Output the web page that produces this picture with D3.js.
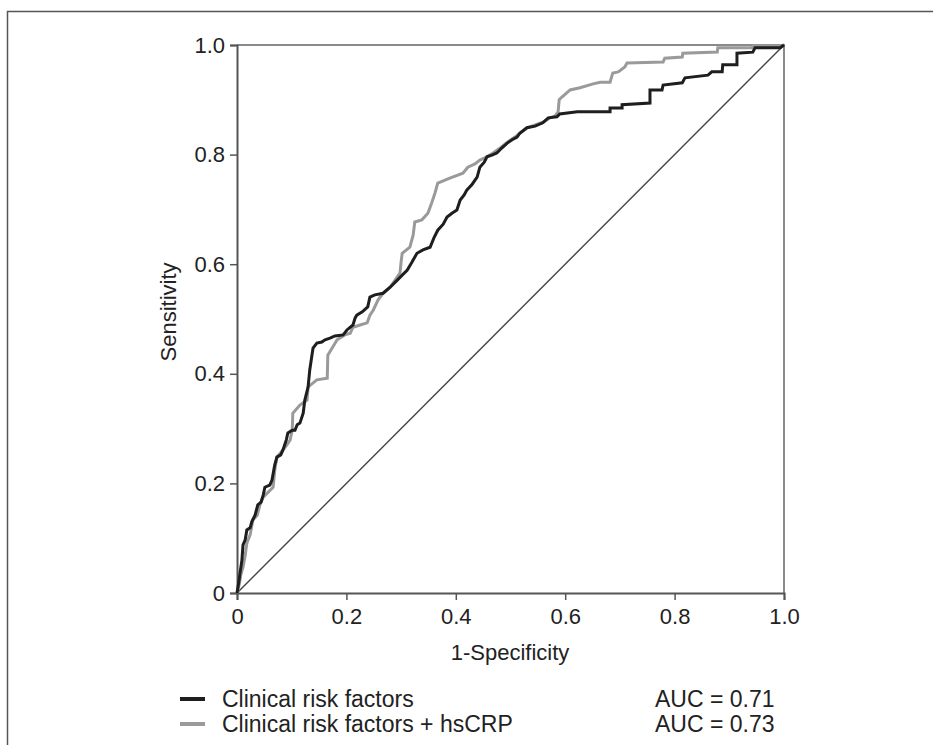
<!DOCTYPE html>
<html>
<head>
<meta charset="utf-8">
<script src="https://cdn.jsdelivr.net/npm/d3@7"></script>
<style>
  body { margin: 0; background: #fff; }
  svg { display: block; font-family: "Liberation Sans", Arial, sans-serif; }
</style>
</head>
<body>
<svg id="chart" width="933" height="745"></svg>
<script>
// ROC points [1-specificity, sensitivity]
var clinical = [
  [0, 0], [.004, .024], [.005, .033], [.009, .060], [.011, .088], [.015, .097], [.018, .115],
  [.024, .119], [.027, .130], [.033, .142], [.038, .161], [.044, .166], [.048, .179], [.051, .193],
  [.060, .197], [.064, .206], [.069, .234], [.073, .248], [.080, .252], [.084, .261], [.090, .279],
  [.093, .292], [.101, .297], [.106, .297], [.110, .307], [.115, .310], [.121, .328], [.124, .352],
  [.130, .376], [.133, .407], [.137, .434], [.139, .447], [.146, .456], [.155, .458], [.161, .462],
  [.170, .465], [.179, .469], [.194, .471], [.201, .480], [.212, .489], [.216, .502], [.219, .507],
  [.229, .513], [.239, .522], [.243, .540], [.252, .544], [.267, .547], [.280, .558], [.293, .571],
  [.302, .580], [.311, .589], [.320, .604], [.329, .620], [.340, .626], [.353, .631], [.360, .648],
  [.367, .662], [.377, .673], [.384, .686], [.393, .693], [.402, .699], [.408, .717], [.415, .726],
  [.420, .735], [.430, .746], [.439, .759], [.444, .777], [.452, .786], [.457, .796], [.466, .799],
  [.475, .803], [.484, .812], [.494, .821], [.503, .827], [.512, .832], [.517, .839], [.530, .849],
  [.545, .852], [.559, .858], [.569, .867], [.585, .869], [.590, .874], [.622, .878], [.682, .878],
  [.682, .885], [.704, .885], [.704, .891], [.755, .894], [.755, .918], [.777, .918], [.779, .927],
  [.814, .931], [.819, .940], [.861, .945], [.868, .951], [.887, .951], [.888, .964], [.914, .964],
  [.914, .985], [.943, .987], [.947, .995], [.993, .995], [1, 1]
];

var withCrp = [
  [0, 0], [.004, .015], [.007, .033], [.011, .047], [.015, .069], [.018, .091], [.024, .106],
  [.029, .133], [.037, .142], [.042, .161], [.048, .175], [.057, .184], [.066, .193], [.069, .224],
  [.073, .248], [.084, .261], [.091, .270], [.097, .279], [.101, .297], [.102, .328], [.115, .343],
  [.128, .352], [.130, .376], [.146, .389], [.165, .392], [.166, .434], [.174, .447], [.183, .462],
  [.197, .471], [.207, .474], [.212, .485], [.225, .489], [.238, .493], [.243, .507], [.249, .516],
  [.258, .535], [.267, .547], [.280, .558], [.289, .571], [.298, .584], [.300, .604], [.302, .620],
  [.316, .631], [.322, .653], [.325, .677], [.338, .681], [.349, .693], [.356, .712], [.362, .730],
  [.367, .748], [.389, .757], [.413, .766], [.422, .777], [.435, .783], [.444, .790], [.457, .796],
  [.468, .803], [.481, .812], [.495, .823], [.508, .832], [.517, .839], [.530, .849], [.545, .854],
  [.559, .859], [.572, .867], [.581, .870], [.587, .878], [.589, .900], [.594, .905], [.609, .918],
  [.627, .922], [.651, .929], [.664, .932], [.682, .932], [.687, .949], [.697, .951], [.709, .960],
  [.713, .967], [.779, .969], [.782, .976], [.814, .978], [.815, .985], [.878, .987], [.879, .995],
  [.941, .995], [.943, .998], [.993, .998], [1, 1]
];

var reference = [[0, 0], [1, 1]];

var tickValues = [0, 0.2, 0.4, 0.6, 0.8, 1.0];
var tickLabels = ["0", "0.2", "0.4", "0.6", "0.8", "1.0"];

var seriesNames = ["Clinical risk factors", "Clinical risk factors + hsCRP"];
var aucLabels = ["AUC = 0.71", "AUC = 0.73"];
var seriesColors = ["#1e1e1e", "#9a9a9a"];

var svg = d3.select("#chart");

// outer frame, open to the right and bottom
svg.append("rect")
    .attr("x", 7.5).attr("y", 11.5)
    .attr("width", 1000).attr("height", 1000)
    .attr("fill", "none")
    .attr("stroke", "#555")
    .attr("stroke-width", 1.5);

var margin = { left: 237, top: 45 };
var width = 547, height = 548;

var x = d3.scaleLinear().domain([0, 1]).range([0, width]);
var y = d3.scaleLinear().domain([0, 1]).range([height, 0]);

var g = svg.append("g")
    .attr("transform", "translate(" + margin.left + "," + margin.top + ")");

// top and right frame of the plot
g.append("path")
    .attr("d", "M0," + y(1) + "H" + x(1) + "V" + y(0))
    .attr("fill", "none")
    .attr("stroke", "#8a8a8a")
    .attr("stroke-width", 2);

var fmt = function (d) { return tickLabels[tickValues.indexOf(d)]; };

var xAxis = g.append("g")
    .attr("transform", "translate(0," + height + ")")
    .call(d3.axisBottom(x).tickValues(tickValues).tickFormat(fmt).tickSize(7).tickPadding(8));

var yAxis = g.append("g")
    .call(d3.axisLeft(y).tickValues(tickValues).tickFormat(fmt).tickSize(7).tickPadding(5));

[xAxis, yAxis].forEach(function (a) {
    a.attr("font-size", null).attr("font-family", null);
    a.select(".domain").attr("stroke", "#555").attr("stroke-width", 2);
    a.selectAll(".tick line").attr("stroke", "#555").attr("stroke-width", 1.5);
    a.selectAll(".tick text")
        .attr("fill", "#222")
        .style("font-size", "22px");
});

// chance line
g.append("path")
    .attr("d", d3.line().x(function (d) { return x(d[0]); }).y(function (d) { return y(d[1]); })(reference))
    .attr("fill", "none")
    .attr("stroke", "#444")
    .attr("stroke-width", 1.4);

var line = d3.line()
    .x(function (d) { return x(d[0]); })
    .y(function (d) { return y(d[1]); });

g.selectAll(".roc")
    .data([withCrp, clinical])
    .enter().append("path")
    .attr("class", "roc")
    .attr("d", line)
    .attr("fill", "none")
    .attr("stroke", function (d, i) { return i === 0 ? seriesColors[1] : seriesColors[0]; })
    .attr("stroke-width", 3)
    .attr("stroke-linejoin", "miter");

// axis titles
svg.append("text")
    .attr("x", 510).attr("y", 660)
    .attr("text-anchor", "middle")
    .attr("fill", "#222")
    .style("font-size", "22px")
    .text("1-Specificity");

svg.append("text")
    .attr("transform", "translate(176,312) rotate(-90)")
    .attr("text-anchor", "middle")
    .attr("fill", "#222")
    .style("font-size", "22px")
    .text("Sensitivity");

// legend
var legend = svg.selectAll(".legend")
    .data(seriesNames)
    .enter().append("g")
    .attr("class", "legend")
    .attr("transform", function (d, i) { return "translate(0," + (699 + i * 25) + ")"; });

legend.append("line")
    .attr("x1", 180).attr("x2", 205)
    .attr("stroke", function (d, i) { return seriesColors[i]; })
    .attr("stroke-width", 4);

legend.append("text")
    .attr("x", 222).attr("dy", "0.35em")
    .attr("fill", "#222")
    .style("font-size", "23px")
    .text(function (d) { return d; });

legend.append("text")
    .attr("x", 655).attr("dy", "0.35em")
    .attr("fill", "#222")
    .style("font-size", "23px")
    .text(function (d, i) { return aucLabels[i]; });
</script>
</body>
</html>
